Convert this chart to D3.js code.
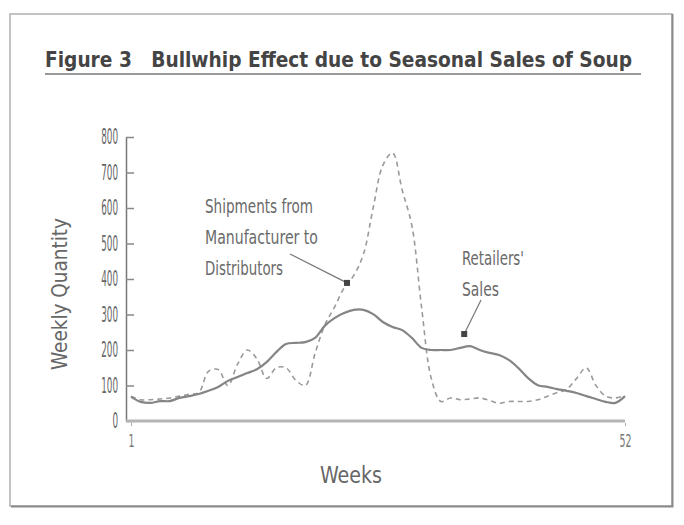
<!DOCTYPE html>
<html>
<head>
<meta charset="utf-8">
<script src="https://cdn.jsdelivr.net/npm/d3@7/dist/d3.min.js"></script>
<style>
  html, body { margin: 0; padding: 0; background: #fff; }
  svg { display: block; }
  text { font-family: "Liberation Sans Narrow", "DejaVu Sans Condensed", "Arial Narrow", sans-serif; }
</style>
</head>
<body>
<svg id="chart" width="684" height="525"></svg>
<script>
// ---- data ----
const weeks = d3.range(1, 53);
const retailerSales = [68, 54, 51, 56, 56, 65, 70, 76, 85, 96, 113, 124, 135, 146, 166, 194, 217, 220, 222, 234,
  268, 290, 304, 313, 313, 301, 279, 265, 256, 234, 206, 200, 200, 200, 206, 211, 200, 192, 186, 172,
  149, 121, 101, 96, 90, 85, 79, 70, 62, 54, 51, 70];
const shipments = [70, 60, 60, 62, 65, 70, 75, 80, 140, 145, 100, 160, 200, 175, 120, 150, 150, 115, 100, 190,
  270, 320, 375, 410, 470, 600, 720, 755, 650, 550, 320, 120, 55, 65, 60, 62, 65, 58, 50, 55,
  55, 55, 60, 70, 80, 90, 120, 150, 100, 70, 65, 72];
const yTicks = [0, 100, 200, 300, 400, 500, 600, 700, 800];
const xTicks = [1, 52];
const titleText = "Figure 3   Bullwhip Effect due to Seasonal Sales of Soup";
const xLabel = "Weeks";
const yLabel = "Weekly Quantity";
const annShipLines = ["Shipments from", "Manufacturer to", "Distributors"];
const annShipAnchor = [23.3, 389];   // [week, value] the pointer touches
const annRetailLines = ["Retailers'", "Sales"];
const annRetailAnchor = [35.4, 245];

// ---- drawing ----
const svg = d3.select("#chart");
const x = d3.scaleLinear().domain([1, 52]).range([131, 625]);
const y = d3.scaleLinear().domain([0, 800]).range([421, 137]);

// frame
svg.append("rect").attr("x", 10).attr("y", 14).attr("width", 662).attr("height", 492)
  .attr("fill", "none").attr("stroke", "#b0b0b0").attr("stroke-width", 1.5);
svg.append("path").attr("d", "M11,506.5H672.5V14")
  .attr("fill", "none").attr("stroke", "#8a8a8a").attr("stroke-width", 2);

// title
svg.append("text").attr("x", 45).attr("y", 67).text(titleText)
  .style("white-space", "pre").attr("xml:space", "preserve")
  .attr("font-size", 22).attr("font-weight", "bold").attr("fill", "#444")
  .attr("textLength", 587).attr("lengthAdjust", "spacingAndGlyphs");
svg.append("line").attr("x1", 45).attr("x2", 641).attr("y1", 74).attr("y2", 74)
  .attr("stroke", "#999").attr("stroke-width", 2);

// y axis
const yAxis = d3.axisLeft(y).tickValues(yTicks).tickSizeInner(-8).tickSizeOuter(0).tickPadding(8);
const gy = svg.append("g").attr("transform", "translate(126,0)").call(yAxis);
gy.select(".domain").attr("stroke", "#777").attr("stroke-width", 1.5);
gy.selectAll(".tick line").attr("stroke", "#888").attr("stroke-width", 1.5);
gy.selectAll(".tick text").attr("font-size", 21).attr("fill", "#666")
  .attr("font-family", "Liberation Sans Narrow, DejaVu Sans Condensed, sans-serif")
  .attr("textLength", d => String(d).length * 5.6).attr("lengthAdjust", "spacingAndGlyphs");

// x axis
svg.append("line").attr("x1", 126).attr("x2", x(52)).attr("y1", y(0)).attr("y2", y(0))
  .attr("stroke", "#b5b5b5").attr("stroke-width", 3);
const xAxis = d3.axisBottom(x).tickValues(xTicks).tickSize(3).tickPadding(8);
const gx = svg.append("g").attr("transform", `translate(0,${y(0) + 2})`).call(xAxis);
gx.select(".domain").remove();
gx.selectAll(".tick line").attr("stroke", "#aaa");
gx.selectAll(".tick text").attr("font-size", 18).attr("fill", "#777")
  .attr("font-family", "Liberation Sans Narrow, DejaVu Sans Condensed, sans-serif")
  .attr("textLength", d => String(d).length * 6).attr("lengthAdjust", "spacingAndGlyphs");

// axis labels
svg.append("text").attr("x", 351).attr("y", 483).attr("text-anchor", "middle").text(xLabel)
  .attr("font-size", 23).attr("fill", "#666")
  .attr("textLength", 62).attr("lengthAdjust", "spacingAndGlyphs");
svg.append("text").attr("transform", "translate(67,294) rotate(-90)").attr("text-anchor", "middle")
  .text(yLabel).attr("font-size", 21).attr("fill", "#666")
  .attr("textLength", 152).attr("lengthAdjust", "spacingAndGlyphs");

// lines
const line = d3.line().x((d, i) => x(weeks[i])).y(d => y(d)).curve(d3.curveCatmullRom.alpha(0.5));
svg.append("path").datum(shipments).attr("d", line)
  .attr("fill", "none").attr("stroke", "#9a9a9a").attr("stroke-width", 1.6)
  .attr("stroke-dasharray", "5,4");
svg.append("path").datum(retailerSales).attr("d", line)
  .attr("fill", "none").attr("stroke", "#858585").attr("stroke-width", 2.2);

// annotations
const annFont = 20;
const shipWidths = [108, 113, 78];
annShipLines.forEach((t, i) => {
  svg.append("text").attr("x", 205).attr("y", 213 + i * 31).text(t)
    .attr("font-size", annFont).attr("fill", "#6a6a6a")
    .attr("textLength", shipWidths[i]).attr("lengthAdjust", "spacingAndGlyphs");
});
const retWidths = [62, 37];
annRetailLines.forEach((t, i) => {
  svg.append("text").attr("x", 462).attr("y", 265 + i * 31).text(t)
    .attr("font-size", annFont).attr("fill", "#6a6a6a")
    .attr("textLength", retWidths[i]).attr("lengthAdjust", "spacingAndGlyphs");
});
const sx = x(annShipAnchor[0]), sy = y(annShipAnchor[1]);
svg.append("line").attr("x1", 290).attr("y1", 254).attr("x2", sx).attr("y2", sy)
  .attr("stroke", "#777").attr("stroke-width", 1.2);
svg.append("rect").attr("x", sx - 3).attr("y", sy - 3).attr("width", 6).attr("height", 6).attr("fill", "#444");
const rx = x(annRetailAnchor[0]), ry = y(annRetailAnchor[1]);
svg.append("line").attr("x1", 481).attr("y1", 300).attr("x2", rx).attr("y2", ry)
  .attr("stroke", "#777").attr("stroke-width", 1.2);
svg.append("rect").attr("x", rx - 3).attr("y", ry - 3).attr("width", 6).attr("height", 6).attr("fill", "#444");
</script>
</body>
</html>
